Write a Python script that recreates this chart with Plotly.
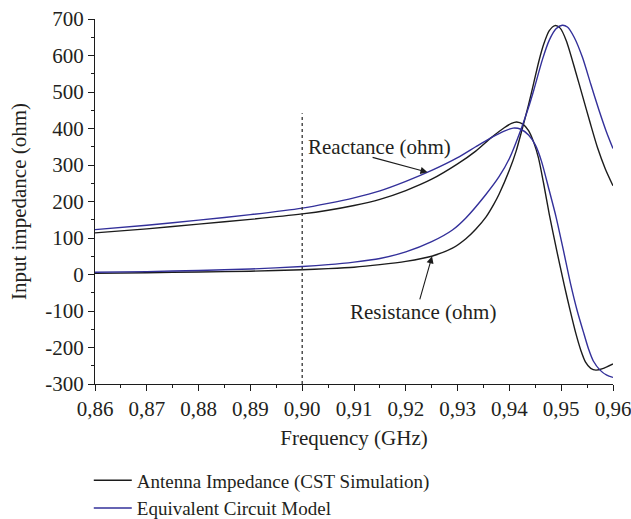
import plotly.graph_objects as go

# ---------------- data ----------------
cst_reac_x = [0.86, 0.87, 0.88, 0.89, 0.90, 0.905, 0.91, 0.915, 0.92, 0.925, 0.93, 0.9335,
              0.9365, 0.9390, 0.9404, 0.9414, 0.9426, 0.9437, 0.9447, 0.9456, 0.9466, 0.9477,
              0.9491, 0.9506, 0.9517, 0.9528, 0.9538, 0.9547, 0.9557, 0.9567, 0.9580, 0.9600]
cst_reac_y = [114, 125, 138, 151, 166, 176, 189, 206, 230, 261, 303, 338,
              375, 402, 414, 418, 412, 394, 362, 320, 250, 165,
              68, -30, -97, -160, -208, -240, -257, -262, -258, -245]

cst_res_x = [0.86, 0.87, 0.88, 0.89, 0.90, 0.905, 0.91, 0.915, 0.92, 0.925, 0.929, 0.9316,
             0.9335, 0.9355, 0.9370, 0.9380, 0.9400, 0.9413, 0.9425, 0.9437, 0.9447, 0.9457,
             0.9466, 0.9477, 0.9488, 0.9498, 0.9510, 0.9528, 0.9541, 0.9556, 0.9570, 0.9585, 0.9600]
cst_res_y = [3, 5, 7, 9, 13, 16, 20, 27, 36, 50, 72, 98,
             124, 158, 193, 220, 286, 338, 400, 465, 525, 585,
             630, 668, 682, 675, 640, 555, 490, 415, 348, 290, 243]

ecm_reac_x = [0.86, 0.87, 0.88, 0.89, 0.90, 0.905, 0.91, 0.915, 0.92, 0.925, 0.93, 0.9335,
              0.9365, 0.9390, 0.9407, 0.9422, 0.9437, 0.9450, 0.9462, 0.9476, 0.9490, 0.9504,
              0.9518, 0.9531, 0.9544, 0.9553, 0.9562, 0.9575, 0.9588, 0.9600]
ecm_reac_y = [123, 135, 149, 164, 182, 195, 210, 229, 255, 285, 320, 350,
              375, 393, 401, 398, 382, 355, 310, 235, 158, 68,
              -25, -100, -163, -205, -237, -262, -276, -282]

ecm_res_x = [0.86, 0.87, 0.88, 0.89, 0.90, 0.905, 0.91, 0.915, 0.92, 0.925, 0.929, 0.9316,
             0.9355, 0.9380, 0.9400, 0.9422, 0.9437, 0.9447, 0.9464, 0.9477, 0.9490, 0.9502,
             0.9512, 0.9525, 0.9541, 0.9557, 0.9573, 0.9587, 0.9600]
ecm_res_y = [6, 8, 11, 15, 22, 27, 34, 44, 62, 90, 122, 155,
             220, 268, 318, 396, 458, 505, 590, 642, 673, 683,
             678, 650, 595, 522, 450, 392, 345]

x_tickvals = [0.86, 0.87, 0.88, 0.89, 0.90, 0.91, 0.92, 0.93, 0.94, 0.95, 0.96]
x_ticktext = ["0,86", "0,87", "0,88", "0,89", "0,90", "0,91", "0,92", "0,93", "0,94", "0,95", "0,96"]
y_tickvals = [-300, -200, -100, 0, 100, 200, 300, 400, 500, 600, 700]
y_ticktext = ["-300", "-200", "-100", "0", "100", "200", "300", "400", "500", "600", "700"]

names = ["Antenna Impedance (CST Simulation)", "Equivalent Circuit Model"]

# ---------------- styling ----------------
BLACK = "#1c1c1c"
BLUE = "#33309a"
TXT = "#231f20"
FONT = "Liberation Serif, Times New Roman, serif"
FS = 21

fig = go.Figure()

def add(x, y, color, name, show):
    fig.add_trace(go.Scatter(
        x=x, y=y, mode="lines", name=name, legendgroup=name, showlegend=show,
        line=dict(color=color, width=1.4, shape="spline", smoothing=0.7)))

add(cst_reac_x, cst_reac_y, BLACK, names[0], True)
add(cst_res_x, cst_res_y, BLACK, names[0], False)
add(ecm_reac_x, ecm_reac_y, BLUE, names[1], True)
add(ecm_res_x, ecm_res_y, BLUE, names[1], False)

# dotted marker line at 0.90 GHz
fig.add_shape(type="line", xref="x", yref="y", x0=0.90, x1=0.90, y0=-300, y1=442,
              line=dict(color="#333333", width=1.3, dash="dot"))

# annotations
fig.add_annotation(x=0.91491, y=350, xref="x", yref="y", text="Reactance (ohm)",
                   showarrow=False, font=dict(family=FONT, size=FS, color=TXT))
fig.add_annotation(x=0.9242, y=280, ax=0.9133, ay=322, xref="x", yref="y",
                   axref="x", ayref="y", text="", showarrow=True,
                   arrowhead=2, arrowsize=1.3, arrowwidth=1.1, arrowcolor=BLACK)
fig.add_annotation(x=0.92326, y=-103, xref="x", yref="y", text="Resistance (ohm)",
                   showarrow=False, font=dict(family=FONT, size=FS, color=TXT))
fig.add_annotation(x=0.92507, y=50, ax=0.92262, ay=-72, xref="x", yref="y",
                   axref="x", ayref="y", text="", showarrow=True,
                   arrowhead=2, arrowsize=1.3, arrowwidth=1.1, arrowcolor=BLACK)

axis_common = dict(showline=True, linecolor=BLACK, linewidth=1, mirror=False,
                   showgrid=False, zeroline=False, ticks="outside", ticklen=6,
                   tickwidth=1, tickcolor=BLACK, automargin=False,
                   ticklabeloverflow="allow",
                   tickfont=dict(family=FONT, size=FS, color=TXT))

fig.update_xaxes(range=[0.86, 0.96], tickvals=x_tickvals, ticktext=x_ticktext,
                 minor=dict(ticks="outside", ticklen=3, dtick=0.005, tick0=0.86,
                            tickcolor=BLACK, showgrid=False),
                 title=dict(text="Frequency (GHz)", font=dict(family=FONT, size=FS, color=TXT),
                            standoff=10),
                 **axis_common)
fig.update_yaxes(range=[-300, 700], tickvals=y_tickvals, ticktext=y_ticktext,
                 minor=dict(ticks="outside", ticklen=3, dtick=50, tick0=0,
                            tickcolor=BLACK, showgrid=False),
                 title=dict(text="Input impedance (ohm)", font=dict(family=FONT, size=FS, color=TXT),
                            standoff=12),
                 **axis_common)

fig.update_layout(
    width=631, height=519,
    margin=dict(l=95, r=18, t=19, b=135, autoexpand=False),
    paper_bgcolor="white", plot_bgcolor="white",
    font=dict(family=FONT, size=FS, color=TXT),
    legend=dict(x=-0.012, y=-0.212, xanchor="left", yanchor="top",
                font=dict(family=FONT, size=19, color=TXT),
                bgcolor="rgba(0,0,0,0)", tracegroupgap=0, itemwidth=38),
)

fig.write_html("out.html")
